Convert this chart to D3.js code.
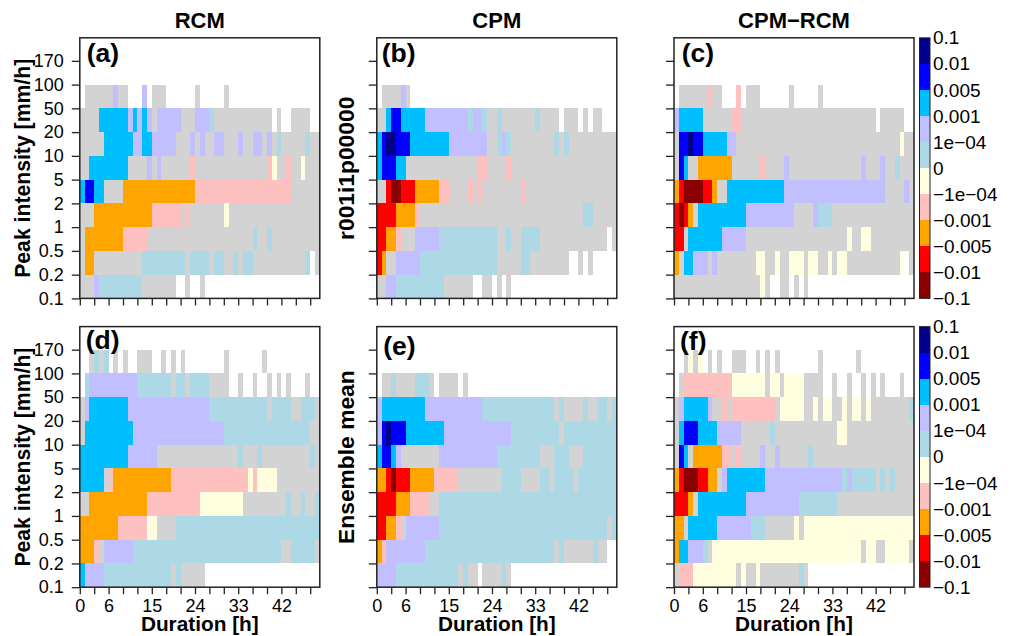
<!DOCTYPE html>
<html>
<head>
    <meta charset="utf-8">
    <script src="https://cdn.jsdelivr.net/npm/d3@7"></script>
    <style>
        html, body { margin: 0; padding: 0; background: #fff; }
        text { font-family: "Liberation Sans", Arial, sans-serif; fill: #000; }
    </style>
</head>
<body>
    <script>
        // y bins and x axis
        var intensityLabels = ['0.1', '0.2', '0.5', '1', '2', '5', '10', '20', '50', '100', '170'];
        var durationTicks = d3.range(0, 49, 3);
        var durationLabels = [0, 6, 15, 24, 33, 42];

        // colour classes, bottom to top of the colour bar
        var classCodes = ['A', 'r', 'o', 'p', 'y', 'l', 'v', 'c', 'b', 'n'];
        var classColors = ['#8b0000', '#ff0000', '#ffa500', '#ffc0c0', '#ffffe0', '#add8e6', '#c1bfff', '#00bfff', '#0000ff', '#00008b'];
        var barLabels = ['\u22120.1', '\u22120.01', '\u22120.005', '\u22120.001', '\u22121e\u221204', '0', '1e\u221204', '0.001', '0.005', '0.01', '0.1'];

        // one string per intensity bin (lowest first), one letter per hour.
        // g = not significant, . = no data, others as classCodes. spaces are only for reading.
        var panelA = [
            'gggvllllll lllggggggg ..g..g',
            'googgggggg ggglllllll llgllllgll gglgllgggg gggggggl.g',
            'goooooooop ppppgggggg gggggggggg gggggglggl gggggggggg',
            'gggooooooo oooooppppp pgpggggggg yggggggggg gggggggggg',
            'cbbccggggo oooooooooo oooopppppp pppppppppp ppppgggggg',
            'ggcccccccc ggggvgvggg gggpgggggg gggggggggp yggpggyggg',
            'gggggccccc cvvccvvvvv gggvgvggvv gggvggvvgv glggggglgg',
            'ggggcccccc vcvcvgvvvv vgggvvvlgg gggggggggg .g..gggg..',
            '.ggggggvgg ...v.ggg.. ....g..... g'
        ];
        var panelB = [
            'ggvvllllll llllgggggg ..gg.g.g..',
            'roggvvvvvl llllllllll lllllggggg llgggggggg ..g.g.....',
            'rroopgggvv vvvlllllll lllllgglgg llllgggggg gggggggg.g',
            'rrrroooopg gggggggggg gggggggggg gggggggggg gggllggggg',
            'ggrAArrroo oooppggggp gpgggggggg pggggggggg gggggggggg',
            'cbbbccgggg gggggggggg gppggggpgg gggggggggg gggggggggg',
            'cbnnbbbccc cccccvvvvv vvvgglvlgg ggggggglgl gggggggggg',
            'ggcbbccccc vvvvvvvvvl vvlgglgggg ggglgggg.g gg.g.gg...',
            '.ggggvg'
        ];
        var panelC = [
            'gggggggggg ggggggggyg ..gg.g.g',
            'ogccvvvgvg gggggggyyg gyggyyygyy ggygyygggg gggggggy.g',
            'rrgccccccc vvvvvggggg gggggggggg ggggggyggy yggggggggg',
            'rArogccccc cccccvvvvv vvvvvggggv lllggggggg gggggggggg',
            'orAAAArrog gccccccccc cccvvvvvvv vvvvvvvvvv vvvvggggvg',
            'gbcggooooo ooggggggpg gggvgggggg gggggggggv gggvgglggg',
            'gbbnbbcccc cvvggggggg gggggggggg gggggggggg gggggggygg',
            'vcccccgggg ggppgggggg gggggggggg gggggggggg gg.ggggg..',
            '.ggggggpgg ...p.ggg.. ....g..... g'
        ];
        var panelD = [
            'cvvvvlllll lllllllllg lggggg',
            'ooopgvvvvv vlllllllll llllllllll llllllllll llgglllllg',
            'oooooooopp ppppyygggg llllllllll llllllllll llllllllll',
            'ggoooooooo oooopppppp pppppyyyyy yyyygggggg ggglgglggl',
            'cccccgpooo ooooooooop pppppppppp pppppypyyy yggggggggg',
            'cccccccccc vvvvvvgggg gggggggggg ggglggglgg gggggggglg',
            'gccccccccc cvvvvvvvvv vvvvvvvvvv llllllllll llllllllgg',
            'gvcccccccc vvvvvvvvvv vvvvvvvlll lllllllllg llllgglllg',
            '.lvvvvvvvv vvlllllllg llgllllggg g..g..g..g .g.g...g..',
            '..glgl.g.g ..ggg..g.g .g........ g.......g'
        ];
        var panelE = [
            'vvvvllllll lllllllglg g.gggglg..',
            'opvvvvvvvv llllllllll llllllllll lllllllglg ggggglgg..',
            'rroopgvvvv vvvlllllll llllllllll llllllllll llllllllgl',
            'rrrroooppp pggllllll l llllllllll llllllllll llllllllll',
            'oorArrrooo ooppppp ggg ggggggllll ggggllglll lgllllllll',
            'cbbcvggggg gggvvvvvvv vvvvvlllll llllggglll ggglllllll',
            'vbnbbbcccc ccccvvvvvv vvvvvvvvll llllllllgl llllllllll',
            'vccccccccc vvvvvvvvvv vvllllllll lllllllglg ggglggllgl',
            '.gglggggll lg.gggg.g'
        ];
        var panelF = [
            'gpppyyyyyy yyygyggygg gggggglg',
            'occvvvlgyy yyyyyyyyyy yyyyyyyyyy yyyyyyyyyg yyggyyyyyg',
            'oogccccccv vvvvvvlllg gggggygyyy yyyyyyyyyy yyyyyyyyyy',
            'rrrogccccc cccccvvvvv vvvvvvllll llllgggggg gggggggggg',
            'orAAArroog vccccccccv vvvvvvvvvv vvvvvlvlll llglglgggg',
            'gbcgoooooo ppgpggggvg gvgggggglg gggggggggg gggggggggg',
            'gcbbbccccv vvvvgggggg lggggggggg ggggyygggg gggggggggg',
            'gvcccccvgg pgpppppppp pgyyyyyggy gyyggygyyg yggggggggl',
            '.gpppppppp ppyyyyyyyg yygyyyyggg g..g..g..g .g.g...g..',
            '..gygy.g.g ..ggg..g.g .g........ g.......g'
        ];

        var columnTitles = ['RCM', 'CPM', 'CPM\u2212RCM'];
        var rowTitles = ['r001i1p00000', 'Ensemble mean'];
        var panelTags = ['(a)', '(b)', '(c)', '(d)', '(e)', '(f)'];
        var panelData = [panelA, panelB, panelC, panelD, panelE, panelF];

        var panelWidth = 240, panelHeight = 260.6;
        var columnLeft = [79.8, 376.8, 674];
        var rowTop = [37.8, 326.6];
        // the tags sit a bit differently in each panel of the original
        var tagX = [7, 5, 7.7, 6, 6.5, 6];
        var tagY = [24, 24, 24.5, 22.5, 28.5, 23.5];

        var svg = d3.select('body').append('svg')
            .attr('width', 1013).attr('height', 636)
            .style('display', 'block');

        var xScale = d3.scaleLinear().domain([0, 50]).range([0, panelWidth]);
        var yScale = d3.scaleLinear().domain([0, 10.97]).range([panelHeight, 0]);
        var colorScale = d3.scaleOrdinal()
            .domain(classCodes.concat(['g']))
            .range(classColors.concat(['#d3d3d3']));

        function cellsOf(rows) {
            var cells = [];
            rows.forEach(function (row, bin) {
                row.replace(/ /g, '').split('').forEach(function (code, hour) {
                    if (code !== '.') cells.push({ bin: bin, hour: hour, code: code });
                });
            });
            return cells;
        }

        panelData.forEach(function (rows, i) {
            var col = i % 3, row = Math.floor(i / 3);
            var g = svg.append('g')
                .attr('transform', 'translate(' + columnLeft[col] + ',' + rowTop[row] + ')');

            g.selectAll('rect.cell')
                .data(cellsOf(rows))
                .enter()
                .append('rect')
                .attr('class', 'cell')
                .attr('x', function (d) { return xScale(d.hour); })
                .attr('y', function (d) { return yScale(d.bin + 1); })
                .attr('width', xScale(1) - xScale(0))
                .attr('height', yScale(0) - yScale(1))
                .attr('fill', function (d) { return colorScale(d.code); })
                .attr('shape-rendering', 'crispEdges');

            var xAxis = d3.axisBottom(xScale)
                .tickValues(durationTicks)
                .tickSize(7)
                .tickPadding(5)
                .tickFormat(function (d) {
                    return row === 1 && durationLabels.indexOf(d) >= 0 ? d : '';
                });
            var yAxis = d3.axisLeft(yScale)
                .tickValues(d3.range(0, 11))
                .tickSize(8)
                .tickPadding(8)
                .tickFormat(function (d) { return col === 0 ? intensityLabels[d] : ''; });

            var xg = g.append('g').attr('transform', 'translate(0,' + panelHeight + ')').call(xAxis);
            var yg = g.append('g').call(yAxis);
            [xg, yg].forEach(function (a) {
                a.select('.domain').remove();
                a.selectAll('.tick line').attr('stroke', '#222').attr('stroke-width', 1.3);
                a.selectAll('text').attr('font-size', 18).attr('font-family', null);
            });

            g.append('rect')
                .attr('width', panelWidth).attr('height', panelHeight)
                .attr('fill', 'none').attr('stroke', '#222').attr('stroke-width', 1.5);

            g.append('text')
                .attr('x', tagX[i]).attr('y', tagY[i])
                .attr('font-size', 26.5).attr('font-weight', 'bold')
                .text(panelTags[i]);

            if (row === 1) {
                g.append('text')
                    .attr('x', panelWidth / 2).attr('y', panelHeight + 43.5)
                    .attr('text-anchor', 'middle')
                    .attr('font-size', 20.8).attr('font-weight', 'bold')
                    .text('Duration [h]');
            }
        });

        // column titles
        svg.selectAll('text.coltitle')
            .data(columnTitles)
            .enter()
            .append('text')
            .attr('class', 'coltitle')
            .attr('x', function (d, i) { return columnLeft[i] + panelWidth / 2; })
            .attr('y', 28)
            .attr('text-anchor', 'middle')
            .attr('font-size', 22).attr('font-weight', 'bold')
            .text(function (d) { return d; });

        // rotated side titles
        function sideTitle(x, y, s, size) {
            svg.append('text')
                .attr('transform', 'translate(' + x + ',' + y + ') rotate(-90)')
                .attr('text-anchor', 'middle')
                .attr('font-size', size).attr('font-weight', 'bold')
                .text(s);
        }
        sideTitle(30, rowTop[0] + 130.5, 'Peak intensity [mm/h]', 21.2);
        sideTitle(30, rowTop[1] + 130.5, 'Peak intensity [mm/h]', 21.2);
        sideTitle(354, rowTop[0] + 130.5, rowTitles[0], 22.8);
        sideTitle(354, rowTop[1] + 130.5, rowTitles[1], 22.8);

        // colour bars
        var barScale = d3.scaleLinear().domain([0, barLabels.length - 1]).range([panelHeight, 0]);
        rowTop.forEach(function (top) {
            var bar = svg.append('g').attr('transform', 'translate(919.5,' + top + ')');
            bar.selectAll('rect.swatch')
                .data(classColors)
                .enter()
                .append('rect')
                .attr('class', 'swatch')
                .attr('x', 0)
                .attr('y', function (d, i) { return barScale(i + 1); })
                .attr('width', 10.5)
                .attr('height', barScale(0) - barScale(1))
                .attr('fill', function (d) { return d; })
                .attr('shape-rendering', 'crispEdges');
            bar.append('rect')
                .attr('width', 10.5).attr('height', panelHeight)
                .attr('fill', 'none').attr('stroke', '#222').attr('stroke-width', 1);
            var barAxis = d3.axisRight(barScale)
                .tickValues(d3.range(0, barLabels.length))
                .tickSize(0)
                .tickPadding(13.5)
                .tickFormat(function (d) { return barLabels[d]; });
            var ag = bar.append('g').call(barAxis);
            ag.select('.domain').remove();
            ag.selectAll('text').attr('font-size', 19).attr('font-family', null);
        });
    </script>
</body>
</html>
